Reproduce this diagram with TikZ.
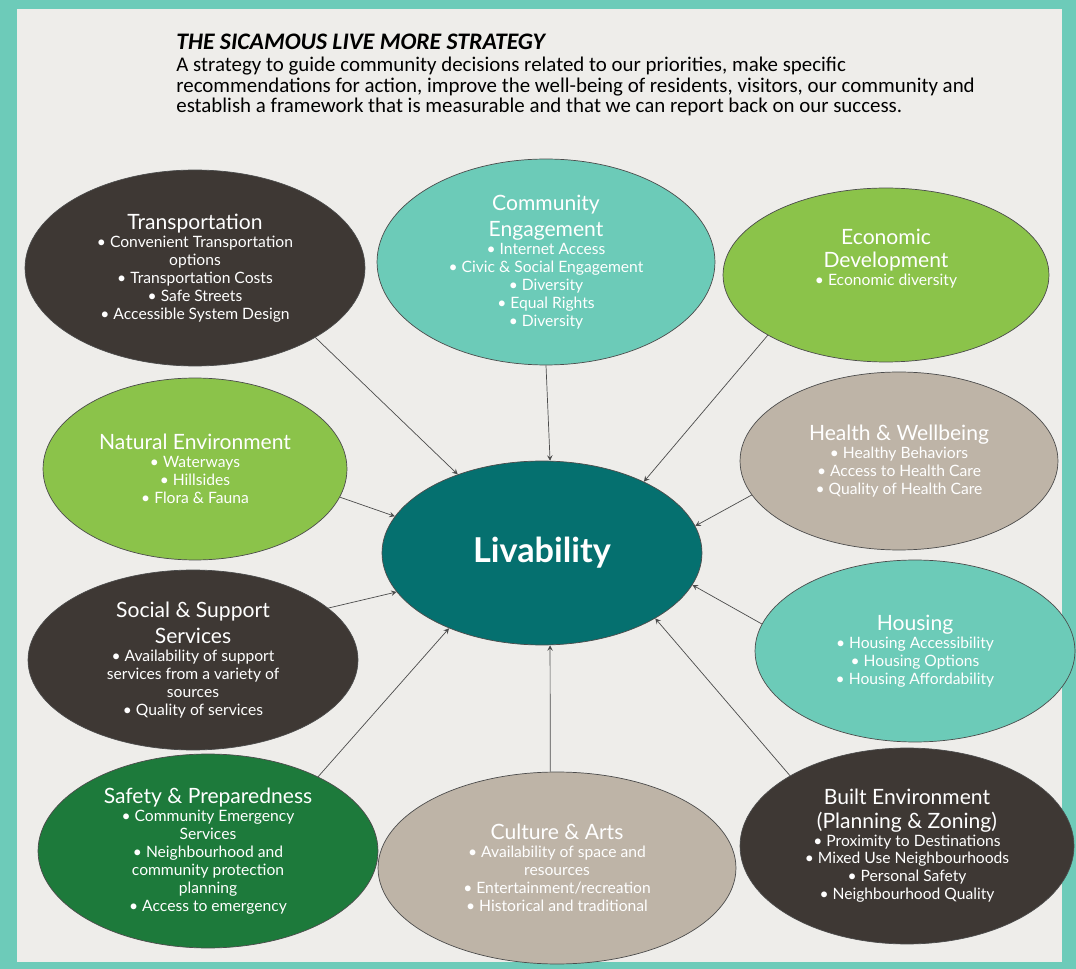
\documentclass[tikz,border=0pt]{standalone}
\usepackage{fontspec}
\setmainfont{Carlito}
\newfontfamily\bubblefont{Lato}
\usetikzlibrary{shapes.geometric,arrows,positioning,calc}

\definecolor{frameteal}{HTML}{6DCBB9}
\definecolor{paper}{HTML}{EEEDEA}
\definecolor{darkbrown}{HTML}{3E3834}
\definecolor{lightteal}{HTML}{6CCBB8}
\definecolor{limegreen}{HTML}{8BC34A}
\definecolor{taupe}{HTML}{BEB4A7}
\definecolor{forest}{HTML}{1D7A3B}
\definecolor{deepteal}{HTML}{05706F}

\newcommand{\btitle}[1]{{\fontsize{12}{14}\selectfont #1}}

\begin{document}
\begin{tikzpicture}[x=0.02cm, y=-0.02cm]
    % Define styles
    \tikzstyle{bubble} = [ellipse, draw=black!70, thin, inner sep=0pt, text=white, align=center, font=\bubblefont\fontsize{8.9}{10.2}\selectfont]
    \tikzstyle{arrow} = [->, >=stealth, draw=black!70, thin]

    % Background
    \fill[frameteal] (0,0) rectangle (1076,969);
    \fill[paper] (17,9) rectangle (1062,962);
    \useasboundingbox (0,0) rectangle (1076,969);

    % Heading
    \node[anchor=base west, inner sep=0pt, font=\bfseries\itshape\fontsize{13.5}{16}\selectfont] (title) at (176,50) {THE SICAMOUS LIVE MORE STRATEGY};
    \node[anchor=north west, inner sep=0pt, align=left, font=\fontsize{11.9}{11.7}\selectfont] (intro) at (176,57) {A strategy to guide community decisions related to our priorities, make specific\\recommendations for action, improve the well-being of residents, visitors, our community and\\establish a framework that is measurable and that we can report back on our success.};

    % Nodes
    \node[bubble, fill=deepteal, minimum width=6.4cm, minimum height=3.68cm, font=\bubblefont\bfseries\fontsize{19.5}{22}\selectfont] (liv) at (542,553) {Livability};

    \node[bubble, fill=darkbrown, minimum width=6.8cm, minimum height=3.92cm] (trans) at (195,268) {\btitle{Transportation}\\ • Convenient Transportation\\ options\\ • Transportation Costs\\ • Safe Streets\\ • Accessible System Design};
    \node[bubble, fill=lightteal, minimum width=6.76cm, minimum height=4.12cm] (comm) at (546,262) {\btitle{Community}\\[3pt] \btitle{Engagement}\\ • Internet Access\\ • Civic \& Social Engagement\\ • Diversity\\ • Equal Rights\\ • Diversity};
    \node[bubble, fill=limegreen, minimum width=6.52cm, minimum height=3.48cm] (econ) at (886,275) {\btitle{Economic}\\[3pt] \btitle{Development}\\ • Economic diversity\\ \mbox{}\\ \mbox{}};
    \node[bubble, fill=limegreen, minimum width=6.08cm, minimum height=3.64cm] (natural) at (195,469) {\btitle{Natural Environment}\\ • Waterways\\ • Hillsides\\ • Flora \& Fauna};
    \node[bubble, fill=taupe, minimum width=6.36cm, minimum height=3.56cm] (health) at (899,461) {\btitle{Health \& Wellbeing}\\ • Healthy Behaviors\\ • Access to Health Care\\ • Quality of Health Care};
    \node[bubble, fill=darkbrown, minimum width=6.6cm, minimum height=3.6cm] (social) at (193,660) {\btitle{Social \& Support}\\[3pt] \btitle{Services}\\ • Availability of support\\ services from a variety of\\ sources\\ • Quality of services};
    \node[bubble, fill=lightteal, minimum width=6.4cm, minimum height=3.64cm] (housing) at (915,651) {\btitle{Housing}\\ • Housing Accessibility\\ • Housing Options\\ • Housing Affordability};
    \node[bubble, fill=forest, minimum width=6.8cm, minimum height=3.88cm] (safety) at (208,851) {\btitle{Safety \& Preparedness}\\ • Community Emergency\\ Services\\ • Neighbourhood and\\ community protection\\ planning\\ • Access to emergency};
    \node[bubble, fill=taupe, minimum width=7.16cm, minimum height=3.84cm] (culture) at (557,868) {\btitle{Culture \& Arts}\\ • Availability of space and\\ resources\\ • Entertainment/recreation\\ • Historical and traditional};
    \node[bubble, fill=darkbrown, minimum width=6.68cm, minimum height=3.92cm] (built) at (907,846) {\btitle{Built Environment}\\[3pt] \btitle{(Planning \& Zoning)}\\ • Proximity to Destinations\\ • Mixed Use Neighbourhoods\\ • Personal Safety\\ • Neighbourhood Quality};

    % Arrows
    \draw[arrow] (trans.-30) -- (liv.137);
    \draw[arrow] (comm.-90) -- (liv.85);
    \draw[arrow] (econ.207) -- (liv.35);
    \draw[arrow] (natural.-11) -- (liv.166);
    \draw[arrow] (health.193) -- (liv.10);
    \draw[arrow] (social.21) -- (liv.195);
    \draw[arrow] (housing.170) -- (liv.-12);
    \draw[arrow] (safety.34) -- (liv.219);
    \draw[arrow] (culture.94) -- (liv.-85);
    \draw[arrow] (built.149) -- (liv.-30);
\end{tikzpicture}
\end{document}
